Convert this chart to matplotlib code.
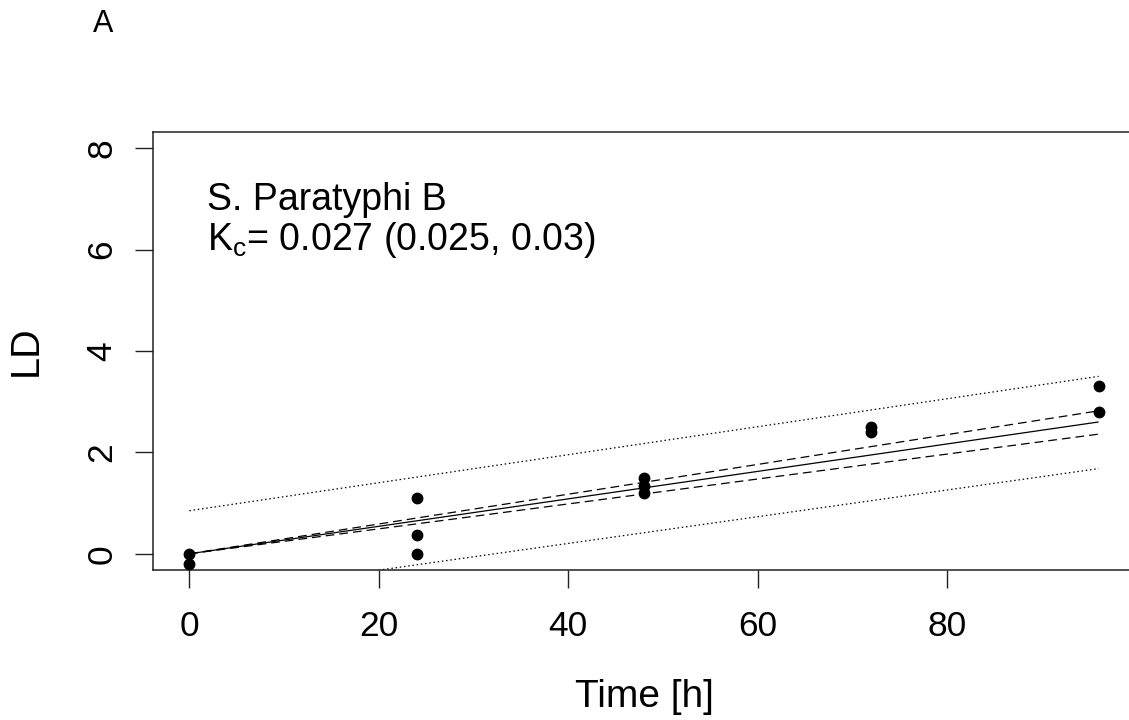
import matplotlib
matplotlib.use("Agg")
import matplotlib.pyplot as plt

plt.rcParams['font.family'] = ['Liberation Sans', 'DejaVu Sans']
plt.rcParams['mathtext.fontset'] = 'custom'
plt.rcParams['mathtext.rm'] = 'Liberation Sans'
plt.rcParams['mathtext.it'] = 'Liberation Sans'

# observed data
time_h = [0, 0, 24, 24, 24, 48, 48, 48, 72, 72, 96, 96]
ld = [0.0, -0.2, 1.1, 0.38, 0.0, 1.5, 1.33, 1.2, 2.5, 2.4, 3.3, 2.8]

# model lines (values at start and end of fitted range)
line_x = [0, 96]
fit_y = [0.0, 2.6]
ci_upper = [0.0, 2.82]
ci_lower = [0.0, 2.36]
pi_upper = [0.85, 3.5]
pi_lower = [-0.85, 1.68]

xticks = [0, 20, 40, 60, 80]
yticks = [0, 2, 4, 6, 8]

W, H = 1129, 720
fig = plt.figure(figsize=(W / 100, H / 100), dpi=100)
ax = fig.add_axes([153 / W, 1 - 570 / H, (1135 - 153) / W, (570 - 132) / H])

ax.plot(line_x, fit_y, color='black', lw=0.9, solid_capstyle='butt')
ax.plot(line_x, ci_upper, color='black', lw=0.9, dashes=(7, 4))
ax.plot(line_x, ci_lower, color='black', lw=0.9, dashes=(7, 4))
ax.plot(line_x, pi_upper, color='black', lw=0.9, dashes=(1.2, 2.2))
ax.plot(line_x, pi_lower, color='black', lw=0.9, dashes=(1.2, 2.2))
ax.plot(time_h, ld, 'o', color='black', markersize=7.5, zorder=5)

ax.set_xlim(-3.84, 99.84)
ax.set_ylim(-0.32, 8.32)
ax.set_xticks(xticks)
ax.set_yticks(yticks)
ax.tick_params(axis='both', length=13, width=1.0, labelsize=25.5, color='#222222')
ax.tick_params(axis='x', pad=16)
ax.tick_params(axis='y', pad=12)
for lab in ax.get_yticklabels():
    lab.set_rotation(90)
    lab.set_va('center')
for sp in ax.spines.values():
    sp.set_linewidth(1.1)
    sp.set_color('#222222')

ax.set_xlabel('Time [h]', fontsize=28, labelpad=26)
ax.set_ylabel('LD', fontsize=28.5, labelpad=29)

ax.text(1.9, 6.79, 'S. Paratyphi B', fontsize=27, va='baseline', ha='left')
ax.text(1.9, 6.0, r'K$_\mathrm{c}$= 0.027 (0.025, 0.03)', fontsize=27,
        va='baseline', ha='left')

fig.text(103 / W, 1 - 24 / H, 'A', fontsize=22, ha='center', va='center')

fig.savefig('out.png', dpi=100)
